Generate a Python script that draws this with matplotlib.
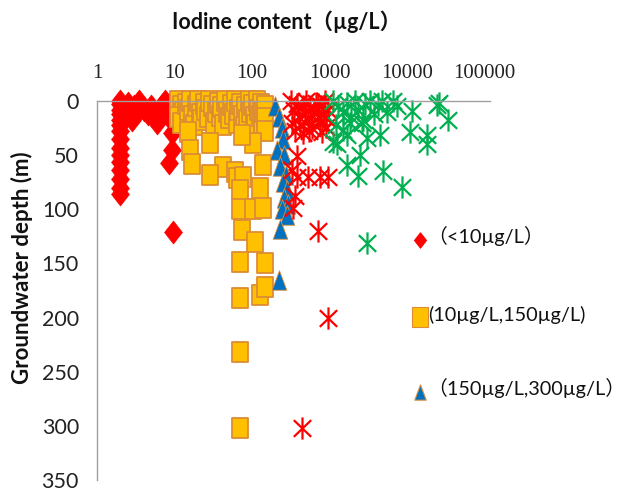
import matplotlib
matplotlib.use('Agg')
import matplotlib.pyplot as plt
from matplotlib.path import Path
from matplotlib.lines import Line2D

# ---------------- data (iodine µg/L, depth m) ----------------
low_x = [2, 2, 2, 2, 2, 2, 2, 2, 2, 2, 2, 2, 2, 2, 2,
         2.5, 3, 3.5, 4, 4.5, 5, 5.5, 6, 6.5, 7, 7.5, 8, 9, 9.5, 3.2, 2.8,
         9, 9.2, 9.3, 8.5, 9.5]
low_depth = [0, 3, 8, 12, 18, 22, 28, 35, 43, 50, 56, 64, 72, 80, 86,
             2, 5, 0, 8, 12, 5, 15, 20, 10, 3, 0, 5, 2, 8, 12, 18,
             18, 30, 45, 57, 121]

mid_x = [11, 12, 13, 11, 12, 14, 15, 16, 17, 18, 19, 20, 21, 22, 24, 25, 27, 28,
         30, 32, 34, 36, 38, 40, 42, 45, 48, 50, 53, 56, 60, 63, 66, 70, 74, 78,
         82, 86, 90, 95, 100, 105, 110, 115, 120, 125, 130, 135, 140, 145, 148,
         15, 16, 17, 29, 42, 29, 60, 64, 76, 70, 127, 139, 147, 70, 103, 140,
         103, 74, 74, 110, 70, 145, 127, 145, 70, 70, 70]
mid_depth = [0, 5, 10, 15, 20, 3, 8, 0, 14, 22, 5, 0, 12, 18, 3, 8, 15, 0,
             5, 20, 10, 2, 14, 6, 22, 0, 10, 16, 4, 12, 0, 20, 8, 3, 14, 24,
             6, 18, 0, 10, 4, 15, 22, 0, 8, 14, 3, 20, 10, 5, 16,
             29, 45, 58, 39, 61, 68, 66, 71, 70, 82, 80, 59, 28, 100, 100, 99,
             39, 31, 119, 130, 149, 150, 179, 172, 182, 232, 302]

high_x = [200, 220, 240, 250, 210, 260, 230, 270, 250, 280, 260, 290, 240, 280, 230, 220]
high_depth = [5, 15, 25, 35, 45, 50, 60, 68, 75, 82, 90, 95, 100, 105, 118, 165]

vhigh_x = [320, 350, 380, 400, 420, 450, 480, 500, 530, 560, 600, 630, 660, 700,
           750, 780, 820, 870, 900, 950, 330, 360, 800, 550, 450, 700, 900,
           380, 330, 380, 530, 750, 950, 360, 340, 700, 950, 440]
vhigh_depth = [0, 8, 3, 15, 22, 5, 12, 0, 18, 6, 25, 10, 2, 15,
               20, 5, 12, 0, 24, 8, 20, 28, 29, 28, 30, 3, 16,
               51, 64, 70, 70, 70, 70, 88, 99, 120, 200, 302]

ext_x = [1100, 1300, 1500, 1700, 1900, 2100, 2300, 2600, 2900, 3300, 3700, 4200,
         4800, 5500, 6600, 7400, 11500, 24000, 26000, 34000, 11000, 18000, 18000,
         4500, 3000, 1700, 1250, 1100, 2450, 1700, 2300, 4900, 8600, 2700, 1850,
         1200, 1500, 3000]
ext_depth = [0, 5, 10, 2, 15, 0, 8, 20, 3, 0, 12, 4,
             0, 10, 0, 5, 9, 4, 2, 18, 29, 31, 40,
             31, 34, 31, 40, 38, 50, 59, 69, 65, 79, 18, 20,
             22, 27, 131]

x_ticks = [1, 10, 100, 1000, 10000, 100000]
x_tick_labels = ['1', '10', '100', '1000', '10000', '100000']
y_ticks = [0, 50, 100, 150, 200, 250, 300, 350]
legend_labels = ['（<10µg/L）', '(10µg/L,150µg/L)', '（150µg/L,300µg/L）']

# ---------------- markers ----------------
diamond = Path([(0, 1), (0.78, 0), (0, -1), (-0.78, 0), (0, 1)], closed=True)
square = Path([(-0.82, -1), (0.82, -1), (0.82, 1), (-0.82, 1), (-0.82, -1)], closed=True)
triangle = Path([(0, 1), (0.75, -1), (-0.75, -1), (0, 1)], closed=True)
aster = Path([(0, -1), (0, 1), (-0.78, -0.75), (0.78, 0.75), (-0.78, 0.75), (0.78, -0.75)],
             [Path.MOVETO, Path.LINETO, Path.MOVETO, Path.LINETO, Path.MOVETO, Path.LINETO])

RED = '#FF0000'
YEL = '#FFC000'
ORG = '#DD8C35'
BLUE = '#0070C0'
GREEN = '#00B050'

fig = plt.figure(figsize=(6.25, 4.91), dpi=100)
ax = fig.add_axes([97 / 625, 1 - 480 / 491, 393 / 625, 379 / 491])

ax.plot(low_x, low_depth, ls='none', marker=diamond, ms=16.5, mfc=RED, mec=RED, mew=0.5, clip_on=False)
ax.plot(mid_x, mid_depth, ls='none', marker=square, ms=14.5, mfc=YEL, mec=ORG, mew=1.3, clip_on=False)
ax.plot(high_x, high_depth, ls='none', marker=triangle, ms=14, mfc=BLUE, mec=ORG, mew=0.6, clip_on=False)
ax.plot(vhigh_x, vhigh_depth, ls='none', marker=aster, ms=16, mfc='none', mec=RED, mew=1.6, clip_on=False)
ax.plot(ext_x, ext_depth, ls='none', marker=aster, ms=16, mfc='none', mec=GREEN, mew=1.6, clip_on=False)

ax.set_xscale('log')
ax.set_xlim(1, 1.17e5)
ax.set_ylim(350, 0)
ax.xaxis.tick_top()
ax.set_xticks(x_ticks)
ax.set_xticklabels(x_tick_labels, family='Liberation Serif', fontsize=15, color='#222222')
ax.xaxis.set_minor_locator(matplotlib.ticker.NullLocator())
ax.set_yticks(y_ticks)
ax.set_yticklabels([str(v) for v in y_ticks], family='Lato', fontsize=15.5, color='#222222')
ax.tick_params(axis='x', length=0, pad=13)
ax.tick_params(axis='y', length=0, pad=13)
for s in ['bottom', 'right']:
    ax.spines[s].set_visible(False)
for s in ['top', 'left']:
    ax.spines[s].set_color('#A0A0A0')
    ax.spines[s].set_linewidth(1.0)
ax.set_facecolor('none')

fig.text(287 / 625, 1 - 22 / 491, 'Iodine content（µg/L）', ha='center', va='center',
         family=['Lato', 'Noto Sans CJK SC'], fontweight='bold', fontsize=15.5, color='#111111')
fig.text(22 / 625, 1 - 268 / 491, 'Groundwater depth (m)', ha='center', va='center', rotation=90,
         family='Lato', fontweight='bold', fontsize=16, color='#111111')

# legend-like annotations
leg = [(diamond, 11, RED, RED, 240, 427, 236),
       (square, 14, YEL, ORG, 317, 428, 315),
       (triangle, 11, BLUE, ORG, 392, 427, 388)]
for (mk, sz, fc, ec, my, tx, ty), lab in zip(leg, legend_labels):
    fig.add_artist(Line2D([420 / 625], [1 - my / 491], ls='none', marker=mk, ms=sz,
                          mfc=fc, mec=ec, mew=0.8, transform=fig.transFigure))
    fig.text(tx / 625, 1 - ty / 491, lab, ha='left', va='center',
             family=['Lato', 'Noto Sans CJK SC'], fontsize=14.3, color='#111111')

fig.savefig('out.png', dpi=100)
